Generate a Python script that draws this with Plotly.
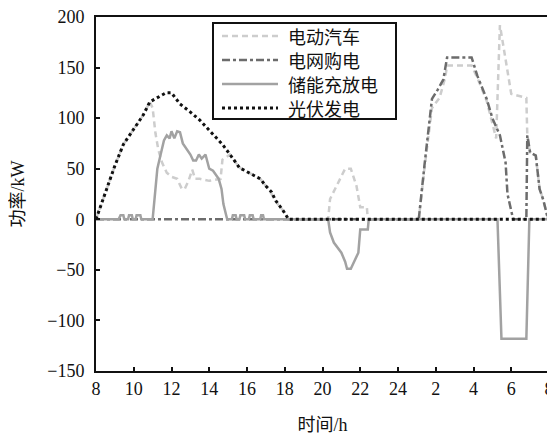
import plotly.graph_objects as go

# ---- data (hours on a continuous 8..32 axis; 24+ = next day) ----
ev_t = [8.0, 8.56, 9.0, 9.45, 9.97, 10.5, 10.85, 11.0, 11.15, 11.3, 11.5, 11.75, 12.0, 12.3, 12.55, 12.7,
        12.9, 13.1, 13.25, 13.5, 14.0, 14.6, 14.7, 15.1, 15.6, 16.1, 16.7, 17.0, 17.3, 17.5, 17.9, 18.2,
        20.3, 20.4, 20.75, 21.0, 21.2, 21.5, 21.8, 22.0, 22.35, 22.4,
        25.1, 25.4, 25.8, 26.2, 26.5, 26.6, 27.9, 28.2, 28.7, 29.2, 29.4, 29.7, 30.0, 30.8, 30.85,
        31.0, 31.3, 31.5, 31.7, 31.95, 32.0]
ev_v = [0, 30, 53, 74, 89, 103, 116, 110, 85, 69, 56, 46, 42, 40, 30, 30,
        38, 49, 40, 40, 38, 40, 59, 64, 51, 46, 40, 33, 25, 18, 9, 0,
        0, 20, 33, 43, 50, 50, 33, 12, 12, 0,
        0, 50, 110, 120, 140, 152, 152, 140, 117, 80, 192, 158, 124, 120, 83,
        66, 63, 30, 19, 0, 0]

grid_t = [8.0, 25.1, 25.4, 25.8, 26.1, 26.4, 26.6, 27.9, 28.2, 28.5, 28.7, 29.0, 29.4, 29.7, 29.8, 30.1,
          30.8, 30.85, 31.0, 31.3, 31.5, 31.7, 31.95, 32.0]
grid_v = [0, 0, 53, 119, 128, 138, 160, 160, 142, 128, 119, 100, 83, 56, 25, 0,
          0, 83, 66, 63, 30, 19, 0, 0]

storage_t = [8.0, 9.2, 9.3, 9.45, 9.5, 9.7, 9.75, 9.9, 9.95, 10.1, 10.15, 10.35, 10.4, 11.0, 11.1, 11.25,
             11.4, 11.6, 11.75, 11.9, 12.0, 12.15, 12.3, 12.45, 12.6, 12.8, 13.0, 13.15, 13.3, 13.45, 13.6,
             13.8, 14.0, 14.2, 14.5, 14.65, 14.75, 14.95, 15.2, 15.25, 15.4, 15.45, 15.6, 15.65, 15.85,
             15.9, 16.1, 16.15, 16.3, 16.35, 16.7, 16.75, 16.85, 16.9, 20.3, 20.4, 20.6, 21.0, 21.2, 21.3,
             21.5, 21.9, 22.0, 22.4, 22.45, 29.27, 29.48, 30.8, 30.96, 32.0]
storage_v = [0, 0, 4, 4, 0, 0, 4, 4, 0, 0, 4, 4, 0, 0, 20, 50,
             62, 78, 83, 80, 87, 80, 87, 86, 75, 70, 64, 58, 58, 64, 60,
             64, 50, 48, 40, 30, 15, 0, 0, 4, 4, 0, 0, 4, 4,
             0, 0, 4, 4, 0, 0, 4, 4, 0, 0, -13, -23, -33, -42, -49,
             -49, -33, -10, -10, 0, 0, -118, -118, 0, 0]

pv_t = [8.0, 8.56, 9.0, 9.45, 9.97, 10.5, 10.85, 11.2, 11.7, 12.0, 12.45, 13.0, 13.5, 14.0, 14.7, 15.1,
        15.6, 16.1, 16.7, 17.0, 17.3, 17.5, 17.9, 18.2, 32.0]
pv_v = [0, 30, 53, 74, 89, 103, 116, 120, 125, 125, 114, 106, 98, 88, 74, 64,
        51, 46, 40, 33, 27, 19, 9, 0, 0]

x_tick_vals = [8, 10, 12, 14, 16, 18, 20, 22, 24, 26, 28, 30, 32]
x_tick_text = ["8", "10", "12", "14", "16", "18", "20", "22", "24", "2", "4", "6", "8"]
y_tick_vals = [-150, -100, -50, 0, 50, 100, 150, 200]

names = ["电动汽车", "电网购电", "储能充放电", "光伏发电"]

# ---- styles ----
FONT = "Liberation Serif, Noto Sans CJK SC, serif"
styles = [
    dict(color="#cdcdcd", width=2.5, dash="6px,4px"),
    dict(color="#6c6c6c", width=2.5, dash="8px,3px,3px,3px"),
    dict(color="#a2a2a2", width=2.5),
    dict(color="#111111", width=3, dash="3px,3px"),
]

fig = go.Figure()
for (tx, vy), nm, st in zip([(ev_t, ev_v), (grid_t, grid_v), (storage_t, storage_v), (pv_t, pv_v)],
                            names, styles):
    fig.add_trace(go.Scatter(x=tx, y=vy, name=nm, mode="lines", line=st, showlegend=False))

# page body has an 8px margin; figure is sized so the plot area lands at x 96..549, y 17..371
PL, PR, PT, PB = 96, 549, 17, 371


def fx(p):
    return (p - PL) / (PR - PL)


def fy(p):
    return (PB - p) / (PB - PT)


# ---- legend box drawn in paper space ----
shapes = [dict(type="rect", xref="paper", yref="paper", x0=fx(213), x1=fx(396), y0=fy(119), y1=fy(23),
               fillcolor="white", line=dict(color="#111", width=2), layer="above")]
annotations = []
row_y = [36, 60, 84, 108]
for nm, st, ry in zip(names, styles, row_y):
    shapes.append(dict(type="line", xref="paper", yref="paper", x0=fx(222), x1=fx(278), y0=fy(ry), y1=fy(ry),
                       line=st, layer="above"))
    annotations.append(dict(xref="paper", yref="paper", x=fx(287), y=fy(ry), xanchor="left", yanchor="middle",
                            text=nm, showarrow=False, height=22, borderpad=0, valign="middle",
                            font=dict(family="Noto Sans CJK SC", size=18, color="#111")))

fig.update_layout(
    width=547, height=427,
    margin=dict(l=88, r=6, t=9, b=64),
    paper_bgcolor="white", plot_bgcolor="white",
    font=dict(family=FONT, size=18, color="#111"),
    showlegend=False,
    shapes=shapes,
    annotations=annotations,
    xaxis=dict(range=[8, 32], tickmode="array", tickvals=x_tick_vals, ticktext=x_tick_text,
               showgrid=False, zeroline=False, showline=True, linecolor="#111", linewidth=2,
               mirror=True, ticks="inside", ticklen=4, tickwidth=2, tickcolor="#111", automargin=False,
               ticklabeloverflow="allow",
               title=dict(text="时间/h", font=dict(family=FONT, size=18), standoff=22)),
    yaxis=dict(range=[-150, 200], tickmode="array", tickvals=y_tick_vals,
               showgrid=False, zeroline=False, showline=True, linecolor="#111", linewidth=2,
               mirror=True, ticks="inside", ticklen=4, tickwidth=2, tickcolor="#111", automargin=False,
               ticklabelstandoff=6, ticklabeloverflow="allow",
               title=dict(text="功率/kW", font=dict(family=FONT, size=18), standoff=18)),
)

fig.write_html("out.html")
